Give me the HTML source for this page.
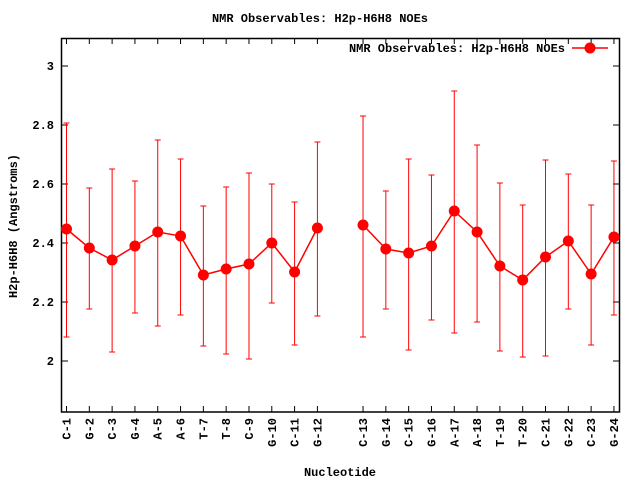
<!DOCTYPE html>
<html><head><style>body{margin:0;background:#fff}svg{display:block}text{font-family:"Liberation Mono",monospace;font-size:12px;font-weight:bold;fill:#000}</style></head>
<body>
<svg width="640" height="480" xmlns="http://www.w3.org/2000/svg">
<rect x="61.5" y="38.5" width="558" height="373.5" fill="none" stroke="#000" stroke-width="1.5"/>
<text x="320" y="22" text-anchor="middle">NMR Observables: H2p-H6H8 NOEs</text>
<g stroke="#000" stroke-width="1">
<line x1="62" y1="66" x2="68" y2="66"/><line x1="62" y1="125" x2="68" y2="125"/><line x1="62" y1="184" x2="68" y2="184"/><line x1="62" y1="243" x2="68" y2="243"/><line x1="62" y1="302" x2="68" y2="302"/><line x1="62" y1="361" x2="68" y2="361"/>
<line x1="619" y1="66" x2="613" y2="66"/><line x1="619" y1="125" x2="613" y2="125"/><line x1="619" y1="184" x2="613" y2="184"/><line x1="619" y1="243" x2="613" y2="243"/><line x1="619" y1="302" x2="613" y2="302"/><line x1="619" y1="361" x2="613" y2="361"/>
</g>
<g text-anchor="end">
<text x="54" y="70">3</text><text x="54" y="129">2.8</text><text x="54" y="188">2.6</text><text x="54" y="247">2.4</text><text x="54" y="306">2.2</text><text x="54" y="365">2</text>
</g>
<text transform="translate(17,226) rotate(-90)" text-anchor="middle">H2p-H6H8 (Angstroms)</text>
<text x="340" y="476" text-anchor="middle">Nucleotide</text>
<g id="ticks"></g>
<g id="labs"></g>
<g id="data"></g>
<text x="565" y="52" text-anchor="end">NMR Observables: H2p-H6H8 NOEs</text>
<line x1="572" y1="48" x2="608" y2="48" stroke="#f00" stroke-width="1.5"/>
<circle cx="590" cy="48" r="5.5" fill="#f00"/>
<script>
var names=["C-1","G-2","C-3","G-4","A-5","A-6","T-7","T-8","C-9","G-10","C-11","G-12","C-13","G-14","C-15","G-16","A-17","A-18","T-19","T-20","C-21","G-22","C-23","G-24"];
var d=[[229,123,337],[248,188,309],[260,169,352],[246,181,313],[232,140,326],[236,159,315],[275,206,346],[269,187,354],[264,173,359],[243,184,303],[272,202,345],[228,142,316],[225,116,337],[249,191,309],[253,159,350],[246,175,320],[211,91,333],[232,145,322],[266,183,351],[280,205,357],[257,160,356],[241,174,309],[274,205,345],[237,161,315]];
var ns="http://www.w3.org/2000/svg",T=document.getElementById("ticks"),L=document.getElementById("labs"),D=document.getElementById("data");
function el(p,t,a,tx){var e=document.createElementNS(ns,t);for(var k in a)e.setAttribute(k,a[k]);if(tx)e.textContent=tx;p.appendChild(e);return e;}
var xs=[];for(var i=0;i<24;i++){var pos=i<12?i:i+1;xs.push(66.5+pos*22.81);}
var p1="",p2="";
for(var i=0;i<24;i++){var x=xs[i];
el(T,"line",{x1:x,y1:412,x2:x,y2:406,stroke:"#000"});el(T,"line",{x1:x,y1:38,x2:x,y2:44,stroke:"#000"});
el(L,"text",{transform:"translate("+(x+4)+",418) rotate(-90)","text-anchor":"end"},names[i]);
var v=d[i];
el(D,"line",{x1:x,y1:v[1],x2:x,y2:v[2],stroke:"#f00","stroke-width":1});
el(D,"line",{x1:x-3,y1:v[1],x2:x+3,y2:v[1],stroke:"#f00","stroke-width":1});
el(D,"line",{x1:x-3,y1:v[2],x2:x+3,y2:v[2],stroke:"#f00","stroke-width":1});
if(i<12)p1+=(p1?"L":"M")+x+","+v[0];else p2+=(p2?"L":"M")+x+","+v[0];}
el(D,"path",{d:p1,fill:"none",stroke:"#f00","stroke-width":1.5});
el(D,"path",{d:p2,fill:"none",stroke:"#f00","stroke-width":1.5});
for(var i=0;i<24;i++)el(D,"circle",{cx:xs[i],cy:d[i][0],r:5.5,fill:"#f00"});
</script>
</svg>
</body></html>
